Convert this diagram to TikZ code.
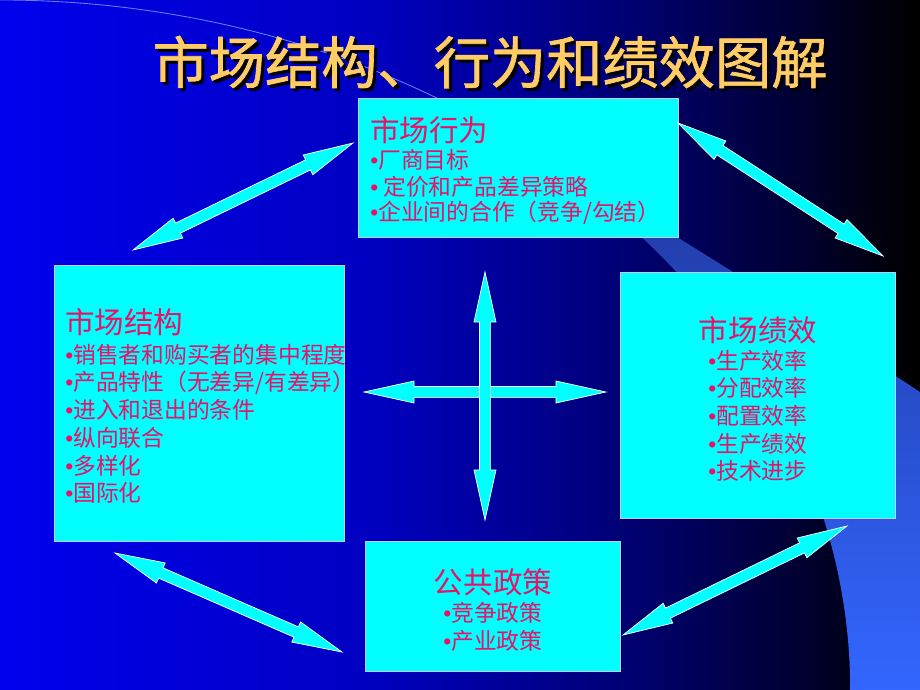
\documentclass[tikz,border=0pt]{standalone}
\usepackage{fontspec}
\setmainfont{Noto Sans CJK SC}
\newfontfamily\titlefont[FakeBold=1.2]{Noto Sans CJK SC}
\newfontfamily\bulletfont{Liberation Sans}
\usepackage{xcolor}
\usepackage{tikz}
\usetikzlibrary{calc}

\definecolor{titlegold}{RGB}{255,204,102}
\definecolor{textpink}{RGB}{235,16,104}
\definecolor{boxcyan}{RGB}{0,255,255}
\definecolor{boxline}{RGB}{200,200,255}
\definecolor{bandblue}{RGB}{51,102,255}
\definecolor{banddark}{RGB}{30,52,150}
\definecolor{bandline}{RGB}{100,130,255}

\pgfdeclarehorizontalshading{slidebg}{100bp}{rgb(0bp)=(0,0,.93); rgb(25bp)=(0,0,.93); rgb(45bp)=(0,0,.76); rgb(57.5bp)=(0,0,.49); rgb(67.5bp)=(0,0,.22); rgb(73bp)=(0,0,.05); rgb(75bp)=(0,0,0); rgb(100bp)=(0,0,0)}

\newcommand{\headlen}{1.25cm}
\newcommand{\headwid}{0.275cm}
\newcommand{\shaftwid}{0.14cm}
\newcommand{\bul}{{\bulletfont •}}

\tikzset{
	box/.style={draw=boxline, fill=boxcyan, line width=0.6pt, inner sep=0pt},
	head/.style={text=textpink, font=\fontsize{21}{25}\selectfont, inner sep=0pt},
	item/.style={text=textpink, font=\fontsize{16.2}{19}\selectfont, inner sep=0pt},
	bigarrow/.style={fill=boxcyan, draw=white, line width=0.5pt},
	titletext/.style={font=\titlefont\fontsize{40}{48}\selectfont, inner sep=0pt}
}

\newcommand{\fatarrow}[2]{%
	\filldraw[bigarrow]
		($(#1)!\headlen!(#2)!\headwid!90:(#2)$) -- (#1)
		-- ($(#1)!\headlen!(#2)!\headwid!-90:(#2)$)
		-- ($(#1)!\headlen!(#2)!\shaftwid!-90:(#2)$)
		-- ($(#2)!\headlen!(#1)!\shaftwid!90:(#1)$)
		-- ($(#2)!\headlen!(#1)!\headwid!90:(#1)$) -- (#2)
		-- ($(#2)!\headlen!(#1)!\headwid!-90:(#1)$)
		-- ($(#2)!\headlen!(#1)!\shaftwid!-90:(#1)$)
		-- ($(#1)!\headlen!(#2)!\shaftwid!90:(#2)$) -- cycle;}

\begin{document}
\begin{tikzpicture}[x=0.025cm, y=-0.025cm]
		%background
		\useasboundingbox (0,0) rectangle (920,690);
		\shade[shading=slidebg] (0,0) rectangle (920,690);
		%light band
		\path (0,690) ++(56:21.25cm and 17.25cm) coordinate (bandstart);
		\shade[top color=banddark, middle color=bandblue, bottom color=bandblue] (bandstart) arc[start angle=56, end angle=0, x radius=21.25cm, y radius=17.25cm] -- (920,690) -- (920,392) .. controls (780,300) and (550,155) .. (450,105) -- cycle;
		%thin arc
		\draw[bandline, line width=0.6pt] (0,0) arc[start angle=90, end angle=52, x radius=21.25cm, y radius=17.25cm];
		
		%title
		\node[titletext, text=black] (title-shadow) at (493,65) {市场结构、行为和绩效图解};
		\node[titletext, text=titlegold] (title) at (490,62) {市场结构、行为和绩效图解};
		
		%boxes
		\node[box, minimum width=8cm, minimum height=3.475cm] (behav) at (518,167.5) {};
		\node[box, minimum width=7.25cm, minimum height=6.9cm] (struct) at (199,403) {};
		\node[box, minimum width=6.875cm, minimum height=6.15cm] (perf) at (757.5,395) {};
		\node[box, minimum width=6.375cm, minimum height=3.25cm] (policy) at (492.5,606) {};
		
		%market conduct
		\node[head, right] (behav-h) at (370,130) {市场行为};
		\node[item, right] (behav-1) at (370,160) {\bul 厂商目标};
		\node[item, right] (behav-2) at (370,187) {\bul{} 定价和产品差异策略};
		\node[item, right] (behav-3) at (370,213) {\bul 企业间的合作（竞争/勾结）};
		%market structure
		\node[head, right] (struct-h) at (65,322) {市场结构};
		\node[item, right] (struct-1) at (65,355) {\bul 销售者和购买者的集中程度};
		\node[item, right] (struct-2) at (65,383) {\bul 产品特性（无差异/有差异）};
		\node[item, right] (struct-3) at (65,410) {\bul 进入和退出的条件};
		\node[item, right] (struct-4) at (65,438) {\bul 纵向联合};
		\node[item, right] (struct-5) at (65,466) {\bul 多样化};
		\node[item, right] (struct-6) at (65,493) {\bul 国际化};
		%market performance
		\node[head] (perf-h) at (758,330) {市场绩效};
		\node[item] (perf-1) at (758,361) {\bul 生产效率};
		\node[item] (perf-2) at (758,388) {\bul 分配效率};
		\node[item] (perf-3) at (758,416) {\bul 配置效率};
		\node[item] (perf-4) at (758,444) {\bul 生产绩效};
		\node[item] (perf-5) at (758,471) {\bul 技术进步};
		%public policy
		\node[head] (policy-h) at (493,582) {公共政策};
		\node[item] (policy-1) at (493,613) {\bul 竞争政策};
		\node[item] (policy-2) at (493,641) {\bul 产业政策};
		
		%arrow ends
		\coordinate (sb-a) at (133,250);
		\coordinate (sb-b) at (353,143);
		\coordinate (bp-a) at (678,123);
		\coordinate (bp-b) at (883,256);
		\coordinate (pp-a) at (623,635);
		\coordinate (pp-b) at (847,526);
		\coordinate (sp-a) at (115,553);
		\coordinate (sp-b) at (342,652);
		\coordinate (h-a) at (364,392);
		\coordinate (h-b) at (606,392);
		\coordinate (v-a) at (485,272);
		\coordinate (v-b) at (485,520);
		%arrows
		\fatarrow{sb-a}{sb-b}
		\fatarrow{bp-a}{bp-b}
		\fatarrow{pp-a}{pp-b}
		\fatarrow{sp-a}{sp-b}
		\fatarrow{h-a}{h-b}
		\fatarrow{v-a}{v-b}
	\end{tikzpicture}
\end{document}
